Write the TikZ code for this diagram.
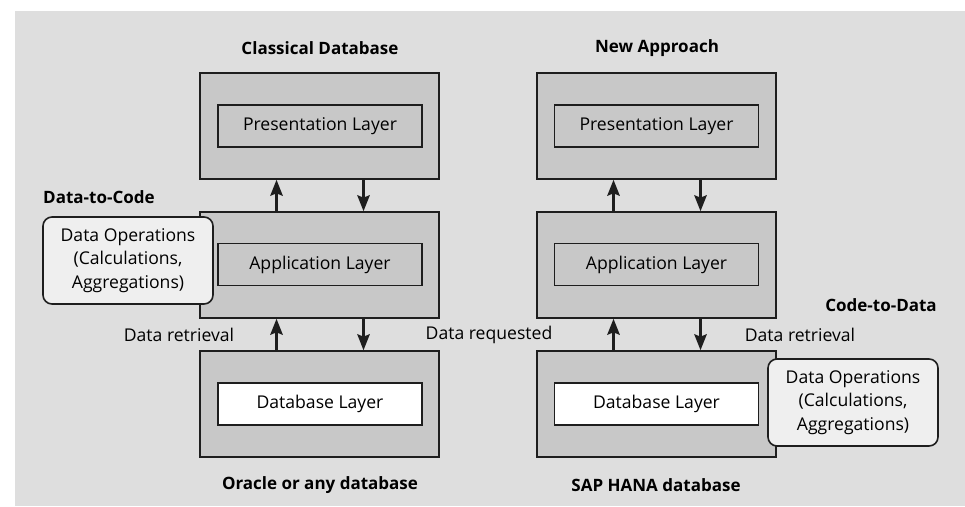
\documentclass[tikz,border=0pt]{standalone}
\usepackage{fontspec}
\setmainfont{Open Sans}
\usetikzlibrary{arrows.meta}
\definecolor{panelgray}{HTML}{DEDEDE}
\definecolor{boxgray}{HTML}{C8C8C8}
\definecolor{opsfill}{HTML}{EFEFEF}
\definecolor{edge}{HTML}{1E1E1E}
\tikzset{
  layerbox/.style={draw=edge, line width=1.6pt, fill=boxgray, minimum width=239pt, minimum height=106pt, inner sep=0pt},
  innerbox/.style={draw=edge, line width=1.6pt, fill=boxgray, minimum width=204pt, minimum height=42pt, inner sep=0pt, font=\fontsize{17.6}{20}\selectfont},
  dbbox/.style={innerbox, fill=white},
  opsbox/.style={draw=edge, line width=1.6pt, fill=opsfill, rounded corners=9pt, minimum width=170pt, minimum height=87pt, align=center, inner sep=0pt, font=\fontsize{17.6}{23.5}\selectfont},
  title/.style={font=\fontsize{17}{20}\selectfont\bfseries, inner sep=0pt},
  plain/.style={font=\fontsize{17.6}{20}\selectfont, inner sep=0pt},
  flow/.style={draw=edge, line width=2.3pt, -{Stealth[length=16pt,width=12.5pt,inset=2.5pt]}}
}
\begin{document}
\begin{tikzpicture}[x=1pt,y=-1pt]
\useasboundingbox (0,0) rectangle (965,506);
\fill[panelgray] (15,11) rectangle (965,506);

% left stack: classical database
\node[title] (tL) at (320,48) {Classical Database};
\node[layerbox] (lt) at (319.5,126) {};
\node[innerbox] (lp) at (320,126) {Presentation Layer};
\node[layerbox] (lm) at (319.5,265) {};
\node[innerbox] (la) at (320,264.5) {Application Layer};
\node[layerbox] (lb) at (319.5,404) {};
\node[dbbox] (ld) at (320,404) {Database Layer};
\node[title] (bL) at (320,485) {Oracle or any database};

% right stack: new approach
\node[title] (tR) at (657,48) {New Approach};
\node[layerbox] (rt) at (656.5,126) {};
\node[innerbox] (rp) at (656.5,126) {Presentation Layer};
\node[layerbox] (rm) at (656.5,265) {};
\node[innerbox] (ra) at (656.5,264.5) {Application Layer};
\node[layerbox] (rb) at (656.5,404) {};
\node[dbbox] (rd) at (656.5,404) {Database Layer};
\node[title] (bR) at (656,485) {SAP HANA database};

% data flow between layers
\foreach \up/\dn in {lt/lm, lm/lb, rt/rm, rm/rb}{
  \draw[flow] ([xshift=-43pt]\dn.north) -- ([xshift=-43pt]\up.south);
  \draw[flow] ([xshift=44pt]\up.south) -- ([xshift=44pt]\dn.north);
}

% side annotations
\node[title, anchor=west] (d2c) at (43,197) {Data-to-Code};
\node[opsbox] (opsL) at (128,260.5) {Data Operations\\(Calculations,\\Aggregations)};
\node[plain] (retL) at (179,335) {Data retrieval};
\node[plain] (req) at (489,335) {Data requested};
\node[plain] (retR) at (800,335) {Data retrieval};
\node[title] (c2d) at (881,305) {Code-to-Data};
\node[opsbox] (opsR) at (853,402.5) {Data Operations\\(Calculations,\\Aggregations)};
\end{tikzpicture}
\end{document}
